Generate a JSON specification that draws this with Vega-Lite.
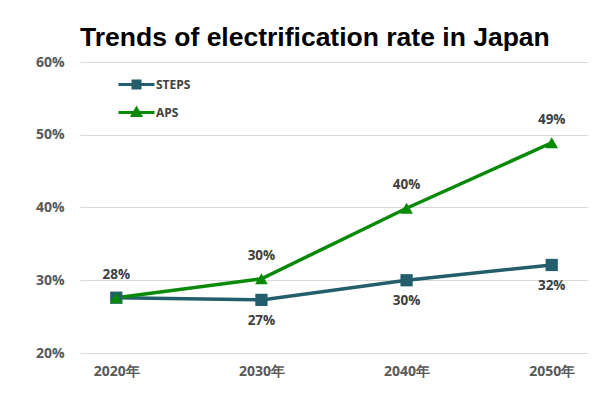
{
  "$schema": "https://vega.github.io/schema/vega-lite/v6.json",
  "width": 508,
  "height": 291,
  "autosize": {"type": "none"},
  "padding": {"left": 80, "top": 62, "right": 12, "bottom": 54},
  "background": "white",
  "title": {
    "text": "Trends of electrification rate in Japan",
    "font": "Liberation Sans",
    "fontSize": 26.5,
    "fontWeight": "bold",
    "color": "#000000",
    "anchor": "start",
    "frame": "group",
    "offset": 4
  },
  "data": {
    "values": [
      {"year": "2020年", "series": "STEPS", "value": 0.276},
      {"year": "2030年", "series": "STEPS", "value": 0.273},
      {"year": "2040年", "series": "STEPS", "value": 0.300},
      {"year": "2050年", "series": "STEPS", "value": 0.321},
      {"year": "2020年", "series": "APS", "value": 0.276},
      {"year": "2030年", "series": "APS", "value": 0.302},
      {"year": "2040年", "series": "APS", "value": 0.399},
      {"year": "2050年", "series": "APS", "value": 0.489}
    ]
  },
  "encoding": {
    "x": {
      "field": "year", "type": "ordinal",
      "scale": {"type": "point", "padding": 0.25},
      "axis": {"title": null, "labelAngle": 0, "domain": false, "ticks": false, "labelPadding": 11,
               "labelFont": "Open Sans", "labelFontSize": 14, "labelFontWeight": "bold", "labelColor": "#595959"}
    },
    "y": {
      "field": "value", "type": "quantitative",
      "scale": {"domain": [0.2, 0.6], "nice": false, "zero": false},
      "axis": {"title": null, "values": [0.2, 0.3, 0.4, 0.5, 0.6], "format": ".0%", "domain": false, "ticks": false,
               "labelPadding": 16, "gridColor": "#d9d9d9", "gridWidth": 1,
               "labelFont": "Open Sans", "labelFontSize": 14, "labelFontWeight": "bold", "labelColor": "#595959"}
    },
    "color": {
      "field": "series", "type": "nominal",
      "scale": {"domain": ["STEPS", "APS"], "range": ["#245d6c", "#088a08"]},
      "legend": {
        "title": null, "orient": "none", "legendX": 50, "legendY": 16, "padding": 0,
        "symbolSize": 100, "symbolStrokeWidth": 3, "labelOffset": 13, "rowPadding": 8,
        "symbolType": "M-3.6,0H3.6M-0.7,-0.7H0.7V0.7H-0.7Z",
        "labelFont": "Open Sans", "labelFontSize": 12, "labelFontWeight": "bold", "labelColor": "#404040",
        "encode": {
          "symbols": {
            "update": {
              "shape": {"signal": "datum.value === 'STEPS' ? 'M-3.6,0H3.6M-0.7,-0.7H0.7V0.7H-0.7Z' : 'M-3.6,0H3.6M0,-0.8L0.8,0.6H-0.8Z'"},
              "fill": {"scale": "color", "field": "value"},
              "stroke": {"scale": "color", "field": "value"},
              "strokeWidth": {"value": 3},
              "opacity": {"value": 1}
            }
          }
        }
      }
    }
  },
  "layer": [
    {"mark": {"type": "line", "strokeWidth": 3.5}},
    {
      "transform": [{"filter": "datum.series === 'STEPS'"}],
      "mark": {"type": "point", "filled": true, "opacity": 1, "shape": "square", "size": 150}
    },
    {
      "transform": [{"filter": "datum.series === 'APS'"}],
      "mark": {"type": "point", "filled": true, "opacity": 1, "shape": "triangle-up", "size": 160}
    },
    {
      "transform": [{"filter": "datum.series === 'APS'"}],
      "mark": {"type": "text", "dy": -23, "font": "Open Sans", "fontSize": 13.5, "fontWeight": "bold"},
      "encoding": {"text": {"field": "value", "type": "quantitative", "format": ".0%"}, "color": {"value": "#404040"}}
    },
    {
      "transform": [{"filter": "datum.series === 'STEPS' && datum.year !== '2020年'"}],
      "mark": {"type": "text", "dy": 21, "font": "Open Sans", "fontSize": 13.5, "fontWeight": "bold"},
      "encoding": {"text": {"field": "value", "type": "quantitative", "format": ".0%"}, "color": {"value": "#404040"}}
    }
  ],
  "config": {"view": {"stroke": null}}
}
